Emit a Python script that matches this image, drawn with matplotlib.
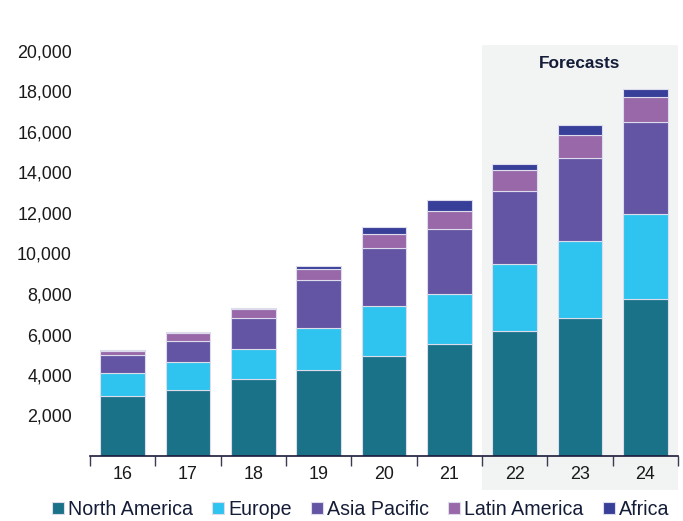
import matplotlib
matplotlib.use("Agg")
import matplotlib.pyplot as plt
import matplotlib.transforms as mtransforms
from matplotlib import font_manager
from matplotlib.patches import Rectangle
from matplotlib.ticker import FuncFormatter, FixedLocator
import numpy as np

# a narrow face gives the tall, condensed look of the labels
installed = {f.name for f in font_manager.fontManager.ttflist}
if 'Liberation Sans Narrow' in installed:
    face, k = 'Liberation Sans Narrow', 1.0
else:
    face, k = 'Liberation Sans', 0.83
plt.rcParams['font.family'] = [face, 'DejaVu Sans']

years = ['16', '17', '18', '19', '20', '21', '22', '23', '24']
north_america = [2970, 3280, 3800, 4260, 4950, 5530, 6150, 6830, 7750]
europe = [1120, 1370, 1470, 2080, 2480, 2480, 3330, 3780, 4180]
asia_pacific = [910, 1040, 1530, 2330, 2820, 3180, 3610, 4090, 4540]
latin_america = [200, 380, 450, 550, 730, 910, 1010, 1140, 1270]
africa = [50, 70, 80, 160, 330, 530, 300, 530, 380]

series = [
    ('North America', north_america, '#1a7288'),
    ('Europe', europe, '#2ec4ef'),
    ('Asia Pacific', asia_pacific, '#6454a4'),
    ('Latin America', latin_america, '#9868a8'),
    ('Africa', africa, '#373f98'),
]

fig = plt.figure(figsize=(6.83, 5.21), dpi=100)
ax = fig.add_axes([90 / 683, 65 / 521, 588 / 683, 405 / 521])
ax.set_facecolor('none')

x = np.arange(len(years))
bottom = np.zeros(len(years))
for name, vals, color in series:
    ax.bar(x, vals, width=0.68, bottom=bottom, color=color, label=name,
           edgecolor='#dcdcec', linewidth=0.8, zorder=3)
    bottom += np.array(vals)

ax.set_xlim(-0.5, len(years) - 0.5)
ax.set_ylim(0, 20000)

# shaded forecast region behind the last three years
trans = mtransforms.blended_transform_factory(ax.transData, ax.transAxes)
ax.add_patch(Rectangle((5.5, -0.085), 3.0, 1.1, transform=trans,
                       facecolor='#f2f4f4', edgecolor='none', clip_on=False, zorder=0))
ax.text(7.0, 0.968, 'Forecasts', transform=trans, ha='center', va='center',
        fontsize=15 * k, fontweight='bold', color='#141c38')

ax.set_yticks(np.arange(2000, 20001, 2000))
ax.yaxis.set_major_formatter(FuncFormatter(lambda v, p: f'{int(v):,}'))
ax.tick_params(axis='y', length=0, labelsize=15.5 * k, labelcolor='#1a1a1a', pad=13)

ax.set_xticks(x)
ax.set_xticklabels(years)
ax.xaxis.set_minor_locator(FixedLocator(np.arange(-0.5, len(years), 1.0)))
ax.tick_params(axis='x', which='major', length=0, labelsize=15.5 * k,
               labelcolor='#1a1a1a', pad=7)
ax.tick_params(axis='x', which='minor', length=7, width=1, color='#3a3a50')

for side in ['left', 'right', 'top']:
    ax.spines[side].set_visible(False)
ax.spines['bottom'].set_color('#1a1a3a')
ax.spines['bottom'].set_linewidth(1.2)
ax.spines['bottom'].set_zorder(4)

fig.legend(loc='center', bbox_to_anchor=(0.528, 0.022), ncol=5, frameon=False,
           fontsize=17 * k, handlelength=0.6, handleheight=0.6, handletextpad=0.2,
           columnspacing=1.0, labelcolor='#141c38', borderaxespad=0)

fig.savefig('out.png', dpi=100)
